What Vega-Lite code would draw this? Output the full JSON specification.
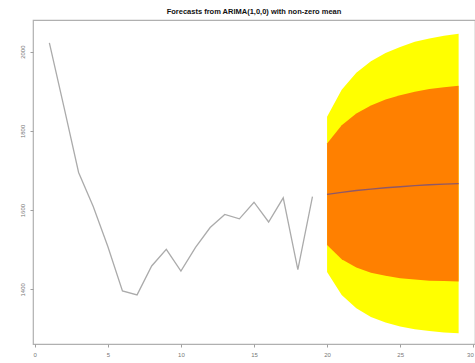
{
  "$schema": "https://vega.github.io/schema/vega-lite/v6.json",
  "width": 442,
  "height": 324,
  "autosize": "none",
  "padding": {"left": 33, "top": 20, "right": 0, "bottom": 19},
  "background": "white",
  "title": {"text": "Forecasts from ARIMA(1,0,0) with non-zero mean", "font": "Liberation Sans", "fontSize": 7.5, "fontWeight": "bold", "color": "#111111", "offset": 5, "anchor": "middle"},
  "config": {
    "view": {"stroke": "#b0b0b0", "strokeWidth": 1.2},
    "axis": {"grid": false, "domain": false, "tickColor": "#a0a0a0", "tickSize": 3, "labelColor": "#777777", "labelFont": "Liberation Sans", "labelFontSize": 6, "title": null}
  },
  "datasets": {
    "obs": [
      {"t": 1, "v": 2022}, {"t": 2, "v": 1860}, {"t": 3, "v": 1695}, {"t": 4, "v": 1609},
      {"t": 5, "v": 1508}, {"t": 6, "v": 1396}, {"t": 7, "v": 1386}, {"t": 8, "v": 1459},
      {"t": 9, "v": 1501}, {"t": 10, "v": 1446}, {"t": 11, "v": 1506}, {"t": 12, "v": 1556},
      {"t": 13, "v": 1589}, {"t": 14, "v": 1578}, {"t": 15, "v": 1620}, {"t": 16, "v": 1570},
      {"t": 17, "v": 1631}, {"t": 18, "v": 1450}, {"t": 19, "v": 1634}
    ],
    "fc": [
      {"t": 20, "mean": 1640, "lo80": 1512, "hi80": 1768, "lo95": 1444, "hi95": 1836},
      {"t": 21, "mean": 1645, "lo80": 1476, "hi80": 1814, "lo95": 1386, "hi95": 1904},
      {"t": 22, "mean": 1649.5, "lo80": 1455, "hi80": 1844, "lo95": 1352, "hi95": 1947},
      {"t": 23, "mean": 1653, "lo80": 1442, "hi80": 1864, "lo95": 1330, "hi95": 1976},
      {"t": 24, "mean": 1656.5, "lo80": 1434, "hi80": 1879, "lo95": 1316, "hi95": 1997},
      {"t": 25, "mean": 1659, "lo80": 1428, "hi80": 1890, "lo95": 1306, "hi95": 2012},
      {"t": 26, "mean": 1662, "lo80": 1425, "hi80": 1899, "lo95": 1299, "hi95": 2025},
      {"t": 27, "mean": 1664, "lo80": 1422, "hi80": 1906, "lo95": 1295, "hi95": 2033},
      {"t": 28, "mean": 1665.5, "lo80": 1421, "hi80": 1910, "lo95": 1291, "hi95": 2040},
      {"t": 29, "mean": 1667, "lo80": 1420, "hi80": 1914, "lo95": 1289, "hi95": 2045}
    ]
  },
  "layer": [
    {
      "data": {"name": "fc"},
      "mark": {"type": "area", "color": "#ffff00", "opacity": 1},
      "encoding": {
        "x": {"field": "t", "type": "quantitative", "scale": {"domain": [-0.12, 30.12], "nice": false, "zero": false}, "axis": {"values": [0, 5, 10, 15, 20, 25, 30], "labelPadding": 4, "labelAlign": {"expr": "datum.value == 30 ? 'right' : 'center'"}}},
        "y": {"field": "lo95", "type": "quantitative", "scale": {"domain": [1262, 2080], "nice": false, "zero": false}, "axis": {"values": [1400, 1600, 1800, 2000], "format": "d", "labelAngle": -90, "labelAlign": "center", "labelBaseline": "bottom", "labelPadding": 5}},
        "y2": {"field": "hi95"}
      }
    },
    {
      "data": {"name": "fc"},
      "mark": {"type": "area", "color": "#ff8000", "opacity": 1},
      "encoding": {
        "x": {"field": "t", "type": "quantitative"},
        "y": {"field": "lo80", "type": "quantitative"},
        "y2": {"field": "hi80"}
      }
    },
    {
      "data": {"name": "fc"},
      "mark": {"type": "line", "color": "#8e5868", "strokeWidth": 1.3},
      "encoding": {
        "x": {"field": "t", "type": "quantitative"},
        "y": {"field": "mean", "type": "quantitative"}
      }
    },
    {
      "data": {"name": "obs"},
      "mark": {"type": "line", "color": "#ababab", "strokeWidth": 1.3},
      "encoding": {
        "x": {"field": "t", "type": "quantitative"},
        "y": {"field": "v", "type": "quantitative"}
      }
    }
  ]
}
